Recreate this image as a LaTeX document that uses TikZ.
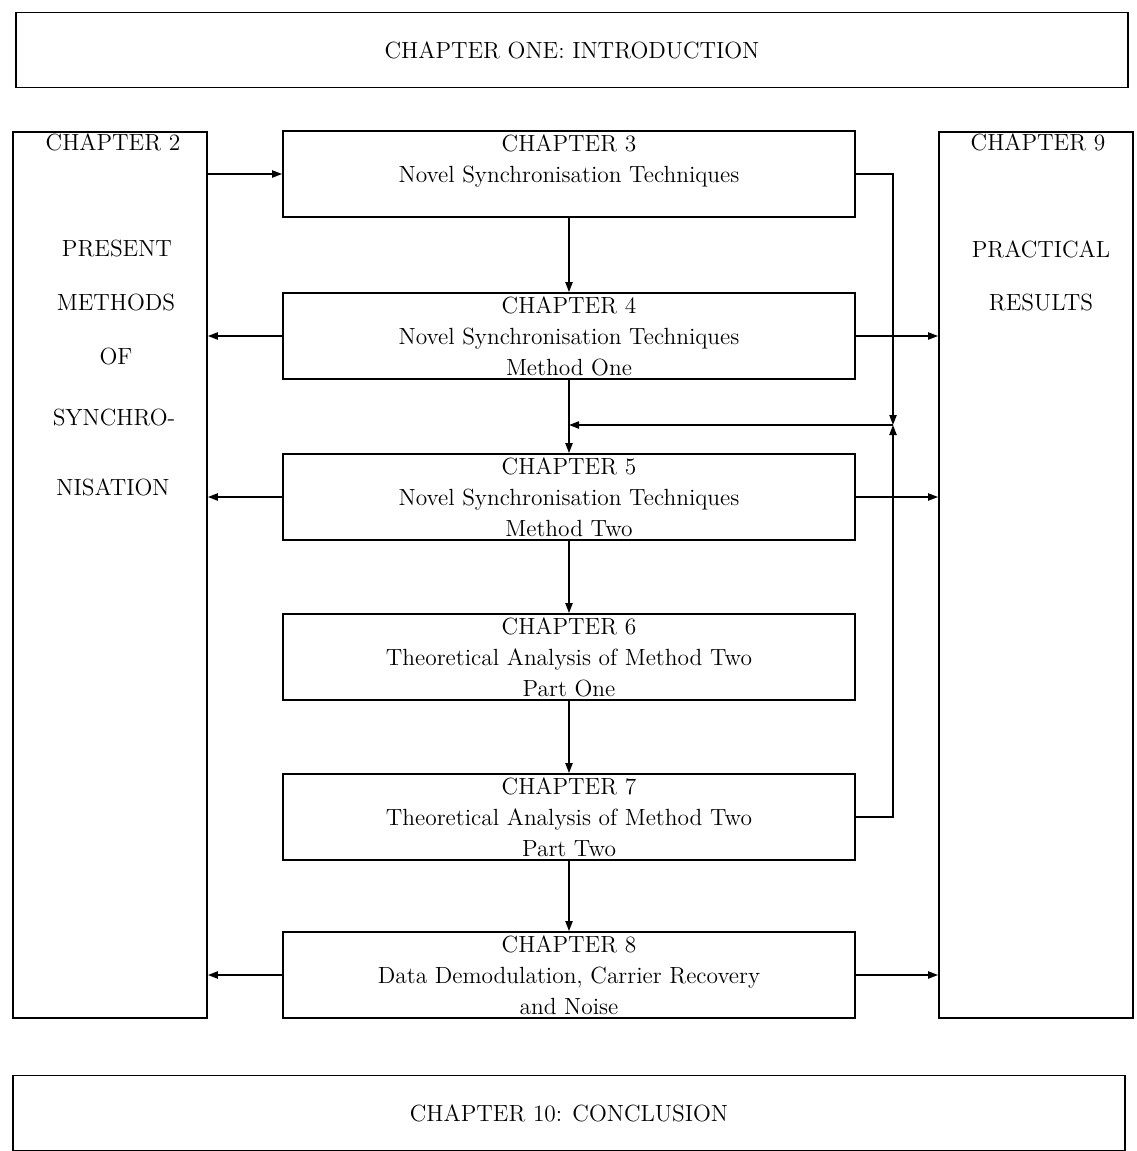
\documentclass[tikz,border=0pt]{standalone}
\usetikzlibrary{arrows.meta}

\tikzset{
  chap/.style={draw, line width=0.9pt, minimum width=286pt, minimum height=43pt,
    inner sep=0pt, align=center, font=\fontsize{11.7}{15.5}\selectfont},
  side/.style={draw, line width=0.9pt, minimum width=97pt, minimum height=443pt, inner sep=0pt},
  wide/.style={draw, line width=0.9pt, minimum width=556pt, minimum height=37.5pt,
    inner sep=0pt, font=\fontsize{11.7}{15.5}\selectfont},
  lbl/.style={font=\fontsize{11.7}{15.5}\selectfont, inner sep=1pt},
  link/.style={line width=0.8pt, -{Triangle[length=5pt,width=3.6pt]}}
}

\begin{document}
\begin{tikzpicture}[x=0.5pt, y=-0.5pt]
  \useasboundingbox (0,0) rectangle (1136,1151);

  \node[wide] (intro) at (572,50) {CHAPTER ONE: INTRODUCTION};
  \node[wide] (concl) at (569,1113) {CHAPTER 10: CONCLUSION};

  % side columns
  \node[side] (ch2) at (110,575) {};
  \node[side] (ch9) at (1036,575) {};
  \node[lbl] (ch2a) at (113,142) {CHAPTER 2};
  \node[lbl] (ch2b) at (117,249) {PRESENT};
  \node[lbl] (ch2c) at (116,303) {METHODS};
  \node[lbl] (ch2d) at (116,357) {OF};
  \node[lbl] (ch2e) at (114,418) {SYNCHRO-};
  \node[lbl] (ch2f) at (113,487) {NISATION};
  \node[lbl] (ch9a) at (1038,142) {CHAPTER 9};
  \node[lbl] (ch9b) at (1041,249) {PRACTICAL};
  \node[lbl] (ch9c) at (1041,303) {RESULTS};

  % middle column
  \node[chap] (ch3) at (569,174) {CHAPTER 3\\Novel Synchronisation Techniques\\\mbox{}};
  \node[chap] (ch4) at (569,336) {CHAPTER 4\\Novel Synchronisation Techniques\\Method One};
  \node[chap] (ch5) at (569,497) {CHAPTER 5\\Novel Synchronisation Techniques\\Method Two};
  \node[chap] (ch6) at (569,657) {CHAPTER 6\\Theoretical Analysis of Method Two\\Part One};
  \node[chap] (ch7) at (569,817) {CHAPTER 7\\Theoretical Analysis of Method Two\\Part Two};
  \node[chap] (ch8) at (569,975) {CHAPTER 8\\Data Demodulation, Carrier Recovery\\and Noise};

  \coordinate (junc) at (893,425);

  \draw[link] (ch2.east |- ch3.west) -- (ch3.west);
  \draw[link] (ch3.south) -- (ch4.north);
  \draw[link] (ch4.south) -- (ch5.north);
  \draw[link] (ch5.south) -- (ch6.north);
  \draw[link] (ch6.south) -- (ch7.north);
  \draw[link] (ch7.south) -- (ch8.north);
  \draw[link] (ch3.east) -| (junc);
  \draw[link] (ch7.east) -| (junc);
  \draw[link] (junc) -- (junc -| ch4.south);
  \draw[link] (ch4.west) -- (ch4.west -| ch2.east);
  \draw[link] (ch4.east) -- (ch4.east -| ch9.west);
  \draw[link] (ch5.west) -- (ch5.west -| ch2.east);
  \draw[link] (ch5.east) -- (ch5.east -| ch9.west);
  \draw[link] (ch8.west) -- (ch8.west -| ch2.east);
  \draw[link] (ch8.east) -- (ch8.east -| ch9.west);
\end{tikzpicture}
\end{document}
